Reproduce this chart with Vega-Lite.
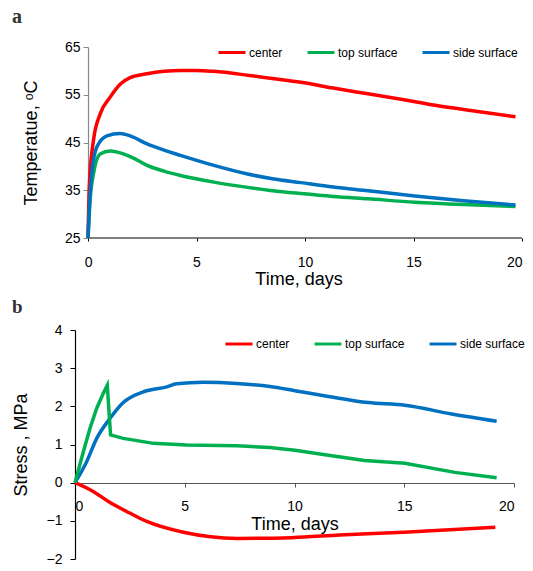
{
  "$schema": "https://vega.github.io/schema/vega-lite/v6.json",
  "padding": {"left": 12, "top": 7, "right": 0, "bottom": 0},
  "config": {
    "font": "Liberation Sans",
    "view": {"stroke": null},
    "axis": {"grid": false, "labelFont": "Liberation Sans", "labelFontSize": 14, "labelColor": "#000", "titleFont": "Liberation Sans", "titleFontSize": 18, "titleFontWeight": "normal", "titleColor": "#000", "domainColor": "#000", "tickColor": "#000", "domainWidth": 1.2},
    "legend": {"labelFont": "Liberation Sans", "labelFontSize": 12, "labelColor": "#000"}
  },
  "datasets": {
    "temp": [
      {"t": 0, "v": 25, "s": "center"}, {"t": 0.06, "v": 36, "s": "center"}, {"t": 0.25, "v": 45.4, "s": "center"}, {"t": 0.56, "v": 51, "s": "center"}, {"t": 1.02, "v": 54.5, "s": "center"}, {"t": 1.48, "v": 57.2, "s": "center"}, {"t": 1.94, "v": 58.6, "s": "center"}, {"t": 2.72, "v": 59.4, "s": "center"}, {"t": 3.5, "v": 59.9, "s": "center"}, {"t": 4.26, "v": 60.1, "s": "center"}, {"t": 5.0, "v": 60.1, "s": "center"}, {"t": 5.8, "v": 59.9, "s": "center"}, {"t": 7.35, "v": 59.1, "s": "center"}, {"t": 8.5, "v": 58.4, "s": "center"}, {"t": 9.81, "v": 57.6, "s": "center"}, {"t": 11.3, "v": 56.4, "s": "center"}, {"t": 12.9, "v": 55.2, "s": "center"}, {"t": 14.5, "v": 54.0, "s": "center"}, {"t": 16.0, "v": 52.8, "s": "center"}, {"t": 17.8, "v": 51.6, "s": "center"}, {"t": 19.7, "v": 50.4, "s": "center"},
      {"t": 0, "v": 25, "s": "top surface"}, {"t": 0.08, "v": 32, "s": "top surface"}, {"t": 0.25, "v": 38.4, "s": "top surface"}, {"t": 0.56, "v": 42.6, "s": "top surface"}, {"t": 1.02, "v": 43.2, "s": "top surface"}, {"t": 1.63, "v": 42.6, "s": "top surface"}, {"t": 2.02, "v": 41.9, "s": "top surface"}, {"t": 2.72, "v": 40.2, "s": "top surface"}, {"t": 3.5, "v": 39.0, "s": "top surface"}, {"t": 4.26, "v": 38.1, "s": "top surface"}, {"t": 5.8, "v": 36.7, "s": "top surface"}, {"t": 7.35, "v": 35.6, "s": "top surface"}, {"t": 8.5, "v": 34.9, "s": "top surface"}, {"t": 9.81, "v": 34.3, "s": "top surface"}, {"t": 11.3, "v": 33.7, "s": "top surface"}, {"t": 12.9, "v": 33.2, "s": "top surface"}, {"t": 15.06, "v": 32.5, "s": "top surface"}, {"t": 17.3, "v": 32.0, "s": "top surface"}, {"t": 19.7, "v": 31.6, "s": "top surface"},
      {"t": 0, "v": 25, "s": "side surface"}, {"t": 0.08, "v": 33, "s": "side surface"}, {"t": 0.17, "v": 38.4, "s": "side surface"}, {"t": 0.4, "v": 44.0, "s": "side surface"}, {"t": 0.87, "v": 46.4, "s": "side surface"}, {"t": 1.48, "v": 46.9, "s": "side surface"}, {"t": 1.94, "v": 46.4, "s": "side surface"}, {"t": 2.72, "v": 44.7, "s": "side surface"}, {"t": 3.5, "v": 43.4, "s": "side surface"}, {"t": 4.26, "v": 42.3, "s": "side surface"}, {"t": 5.8, "v": 40.2, "s": "side surface"}, {"t": 7.35, "v": 38.4, "s": "side surface"}, {"t": 8.5, "v": 37.4, "s": "side surface"}, {"t": 9.81, "v": 36.6, "s": "side surface"}, {"t": 11.3, "v": 35.7, "s": "side surface"}, {"t": 12.9, "v": 34.9, "s": "side surface"}, {"t": 15.06, "v": 33.8, "s": "side surface"}, {"t": 17.3, "v": 32.8, "s": "side surface"}, {"t": 19.7, "v": 31.9, "s": "side surface"}
    ],
    "stress": [
      {"t": 0, "v": 0, "s": "center"}, {"t": 0.77, "v": -0.21, "s": "center"}, {"t": 1.54, "v": -0.5, "s": "center"}, {"t": 2.47, "v": -0.79, "s": "center"}, {"t": 3.24, "v": -1.01, "s": "center"}, {"t": 4.94, "v": -1.3, "s": "center"}, {"t": 7.41, "v": -1.46, "s": "center"}, {"t": 9.88, "v": -1.44, "s": "center"}, {"t": 12.05, "v": -1.37, "s": "center"}, {"t": 14.98, "v": -1.3, "s": "center"}, {"t": 19.15, "v": -1.17, "s": "center"},
      {"t": 0, "v": 0, "s": "top surface"}, {"t": 0.38, "v": 0.81, "s": "top surface"}, {"t": 0.68, "v": 1.42, "s": "top surface"}, {"t": 0.99, "v": 1.95, "s": "top surface"}, {"t": 1.29, "v": 2.34, "s": "top surface"}, {"t": 1.47, "v": 2.55, "s": "top surface"}, {"t": 1.62, "v": 1.25, "s": "top surface"}, {"t": 2.2, "v": 1.16, "s": "top surface"}, {"t": 3.57, "v": 1.03, "s": "top surface"}, {"t": 5.09, "v": 0.99, "s": "top surface"}, {"t": 7.37, "v": 0.97, "s": "top surface"}, {"t": 8.88, "v": 0.92, "s": "top surface"}, {"t": 10.02, "v": 0.85, "s": "top surface"}, {"t": 11.54, "v": 0.72, "s": "top surface"}, {"t": 13.2, "v": 0.58, "s": "top surface"}, {"t": 15.03, "v": 0.51, "s": "top surface"}, {"t": 17.3, "v": 0.27, "s": "top surface"}, {"t": 19.21, "v": 0.13, "s": "top surface"},
      {"t": 0, "v": 0, "s": "side surface"}, {"t": 0.53, "v": 0.55, "s": "side surface"}, {"t": 0.99, "v": 1.16, "s": "side surface"}, {"t": 1.59, "v": 1.68, "s": "side surface"}, {"t": 2.2, "v": 2.1, "s": "side surface"}, {"t": 3.11, "v": 2.38, "s": "side surface"}, {"t": 4.18, "v": 2.51, "s": "side surface"}, {"t": 4.63, "v": 2.59, "s": "side surface"}, {"t": 5.85, "v": 2.63, "s": "side surface"}, {"t": 7.37, "v": 2.6, "s": "side surface"}, {"t": 8.88, "v": 2.52, "s": "side surface"}, {"t": 10.02, "v": 2.41, "s": "side surface"}, {"t": 11.54, "v": 2.26, "s": "side surface"}, {"t": 13.36, "v": 2.1, "s": "side surface"}, {"t": 15.03, "v": 2.03, "s": "side surface"}, {"t": 17.16, "v": 1.8, "s": "side surface"}, {"t": 19.21, "v": 1.61, "s": "side surface"}
    ]
  },
  "spacing": 10,
  "resolve": {"scale": {"color": "independent", "x": "independent", "y": "independent"}, "legend": {"color": "independent"}},
  "vconcat": [
    {
      "width": 447,
      "height": 191,
      "title": {"text": "a", "anchor": "start", "frame": "group", "font": "Liberation Serif", "fontSize": 20, "fontWeight": "bold", "color": "#333333", "dx": -63, "offset": 10.5},
      "layer": [
        {
          "data": {"values": [{}]},
          "mark": {"type": "rule", "color": "#000000", "strokeWidth": 1.2},
          "encoding": {
            "x": {"datum": 0, "type": "quantitative", "scale": {"domain": [-0.6, 20], "nice": false}, "axis": {"title": "Time, days", "values": [0, 5, 10, 15, 20], "domain": false, "tickSize": 3, "labelPadding": 14, "titlePadding": 1}},
            "x2": {"datum": 20},
            "y": {"datum": 25, "type": "quantitative", "scale": {"domain": [25, 65], "nice": false, "zero": false}, "axis": {"title": "Temperatue, ᵒC", "values": [25, 35, 45, 55, 65], "offset": -13, "tickSize": 5, "labelPadding": 3, "titlePadding": 24, "domainColor": "#888888", "tickColor": "#888888"}}
          }
        },
        {
          "data": {"name": "temp"},
          "mark": {"type": "line", "strokeWidth": 3.5, "interpolate": "monotone"},
          "encoding": {
            "x": {"field": "t", "type": "quantitative", "scale": {"domain": [-0.6, 20], "nice": false}, "axis": {"title": "Time, days", "values": [0, 5, 10, 15, 20], "domain": false, "tickSize": 3, "labelPadding": 14, "titlePadding": 1}},
            "y": {"field": "v", "type": "quantitative", "scale": {"domain": [25, 65], "nice": false, "zero": false}, "axis": {"title": "Temperatue, ᵒC", "values": [25, 35, 45, 55, 65], "offset": -13, "tickSize": 5, "labelPadding": 3, "titlePadding": 24, "domainColor": "#888888", "tickColor": "#888888"}},
            "color": {"field": "s", "type": "nominal", "scale": {"domain": ["center", "top surface", "side surface"], "range": ["#FF0000", "#00B050", "#0070C0"]}, "legend": {"title": null, "orient": "none", "legendX": 142, "legendY": -9.5, "direction": "horizontal", "symbolType": "stroke", "symbolSize": 729, "symbolStrokeWidth": 3, "labelOffset": 2, "columnPadding": 18, "padding": 0}}
          }
        }
      ]
    },
    {
      "width": 439,
      "height": 229,
      "title": {"text": "b", "anchor": "start", "frame": "group", "font": "Liberation Serif", "fontSize": 19, "fontWeight": "bold", "color": "#333333", "dx": -63, "offset": 6},
      "data": {"name": "stress"},
      "encoding": {
        "x": {"field": "t", "type": "quantitative", "scale": {"domain": [0, 20], "nice": false}, "axis": {"title": "Time, days", "values": [0, 5, 10, 15, 20], "offset": -76, "tickSize": 4, "labelPadding": 12, "titlePadding": 2, "domainColor": "#555555", "tickColor": "#555555"}},
        "y": {"field": "v", "type": "quantitative", "scale": {"domain": [-2, 4], "nice": false, "zero": false}, "axis": {"title": "Stress , MPa", "values": [-2, -1, 0, 1, 2, 3, 4], "tickSize": 5, "labelPadding": 8, "titlePadding": 16}},
        "color": {"field": "s", "type": "nominal", "scale": {"domain": ["center", "top surface", "side surface"], "range": ["#FF0000", "#00B050", "#0070C0"]}, "legend": {"title": null, "orient": "none", "legendX": 149, "legendY": -1, "direction": "horizontal", "symbolType": "stroke", "symbolSize": 729, "symbolStrokeWidth": 3, "labelOffset": 2, "columnPadding": 18, "padding": 0}}
      },
      "layer": [
        {
          "transform": [{"filter": "datum.s !== 'top surface'"}],
          "mark": {"type": "line", "strokeWidth": 3.5, "interpolate": "monotone"}
        },
        {
          "transform": [{"filter": "datum.s === 'top surface'"}],
          "mark": {"type": "line", "strokeWidth": 3.5}
        }
      ]
    }
  ]
}
